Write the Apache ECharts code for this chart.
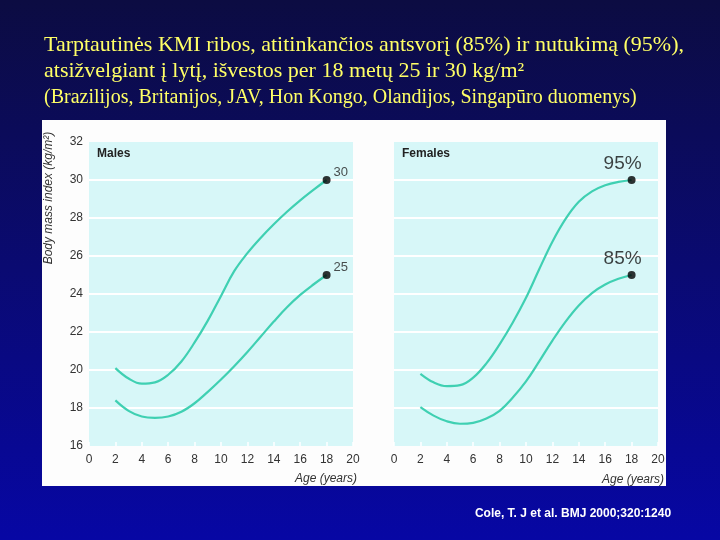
<!DOCTYPE html>
<html><head><meta charset="utf-8">
<script src="https://cdn.jsdelivr.net/npm/echarts@6/dist/echarts.min.js"></script>
<style>html,body{margin:0;padding:0;background:#0a0a60}#c{width:720px;height:540px}</style>
</head><body><div id="c"></div>
<script>
// ---- data ----
const ages = [2,3,4,5,6,7,8,9,10,11,12,13,14,15,16,17,18];
const males30   = [20.1,19.55,19.28,19.35,19.75,20.45,21.45,22.6,23.9,25.2,26.15,26.95,27.67,28.33,28.93,29.48,30.0];
const males25   = [18.4,17.85,17.55,17.48,17.55,17.8,18.25,18.85,19.5,20.2,20.95,21.75,22.55,23.3,23.95,24.5,25.0];
const females95 = [19.8,19.35,19.15,19.2,19.6,20.35,21.35,22.5,23.8,25.3,26.75,27.95,28.85,29.4,29.72,29.9,30.0];
const females85 = [18.05,17.6,17.3,17.17,17.22,17.45,17.85,18.55,19.4,20.45,21.55,22.55,23.4,24.05,24.5,24.8,25.0];
const maleEndLabels = ['30','25'];
const femaleEndLabels = ['95%','85%'];
const panelTitles = ['Males','Females'];
const xMin = 0, xMax = 20, xStep = 2;
const yMin = 16, yMax = 32, yStep = 2;
const titleLine1 = 'Tarptautinės KMI ribos, atitinkančios antsvorį (85%) ir nutukimą (95%),';
const titleLine2 = 'atsižvelgiant į lytį, išvestos per 18 metų 25 ir 30 kg/m²';
const titleLine3 = '(Brazilijos, Britanijos, JAV, Hon Kongo, Olandijos, Singapūro duomenys)';
const yAxisName = 'Body mass index (kg/m²)';
const xAxisName = 'Age (years)';
const citation = 'Cole, T. J et al. BMJ 2000;320:1240';

// ---- styling ----
const LINE = '#3fd0b2';
const SANS = '"Liberation Sans", Arial, Helvetica, sans-serif';
const SERIF = '"Liberation Serif", "Times New Roman", serif';
const pairs = (vals) => ages.map((a, i) => [a, vals[i]]);
const last = (vals) => [ages[ages.length - 1], vals[vals.length - 1]];

const chart = echarts.init(document.getElementById('c'), null, {renderer: 'canvas'});

function xAx(g) {
  return {gridIndex: g, type: 'value', min: xMin, max: xMax, interval: xStep,
    axisLine: {show: false},
    axisTick: {show: true, inside: true, length: 4, lineStyle: {color: '#ffffff', width: 1.5}},
    axisLabel: {color: '#333333', fontSize: 12, margin: 8, fontFamily: SANS},
    splitLine: {show: false}};
}
function yAx(g, showLabels) {
  return {gridIndex: g, type: 'value', min: yMin, max: yMax, interval: yStep,
    axisLine: {show: false}, axisTick: {show: false},
    axisLabel: {show: showLabels, color: '#333333', fontSize: 12, margin: 6, fontFamily: SANS},
    splitLine: {show: true, showMinLine: false, showMaxLine: false, lineStyle: {color: '#ffffff', width: 2}}};
}
function lineSeries(g, vals) {
  return {type: 'line', xAxisIndex: g, yAxisIndex: g, data: pairs(vals), smooth: 0.4,
    showSymbol: false, symbol: 'none', lineStyle: {color: LINE, width: 2.2}, z: 3, silent: true};
}
function endSeries(g, valsList, labels, isFemale) {
  return {type: 'scatter', xAxisIndex: g, yAxisIndex: g, symbol: 'circle', symbolSize: 8,
    itemStyle: {color: '#000000'}, z: 5, silent: true,
    data: valsList.map((v, i) => ({value: last(v), name: labels[i]})),
    label: isFemale
      ? {show: true, formatter: '{b}', position: 'top', distance: 3, offset: [-9, 0],
         color: '#111111', fontSize: 19, fontFamily: SANS}
      : {show: true, formatter: '{b}', position: 'right', distance: 3, offset: [0, -8],
         color: '#222222', fontSize: 13, fontFamily: SANS}};
}

const option = {
  animation: false,
  backgroundColor: {type: 'linear', x: 0, y: 0, x2: 0, y2: 1,
    colorStops: [{offset: 0, color: '#0c0c42'}, {offset: 0.5, color: '#0a0a72'}, {offset: 1, color: '#0707a4'}]},
  grid: [
    {left: 89, top: 142, width: 264, height: 304, show: true, backgroundColor: '#d7f7f8', borderWidth: 0},
    {left: 394, top: 142, width: 264, height: 304, show: true, backgroundColor: '#d7f7f8', borderWidth: 0}
  ],
  xAxis: [xAx(0), xAx(1)],
  yAxis: [yAx(0, true), yAx(1, false)],
  series: [
    lineSeries(0, males30), lineSeries(0, males25),
    lineSeries(1, females95), lineSeries(1, females85),
    endSeries(0, [males30, males25], maleEndLabels, false),
    endSeries(1, [females95, females85], femaleEndLabels, true)
  ],
  graphic: [
    {type: 'rect', z: -10, shape: {x: 42, y: 120, width: 624, height: 366}, style: {fill: '#fdfdfd'}},
    {type: 'text', x: 44, y: 45, style: {text: titleLine1, fill: '#ffff66', font: '22px ' + SERIF, textVerticalAlign: 'middle', verticalAlign: 'middle'}},
    {type: 'text', x: 44, y: 71, style: {text: titleLine2, fill: '#ffff66', font: '22px ' + SERIF, textVerticalAlign: 'middle', verticalAlign: 'middle'}},
    {type: 'text', x: 44, y: 98, style: {text: titleLine3, fill: '#ffff66', font: '20px ' + SERIF, textVerticalAlign: 'middle', verticalAlign: 'middle'}},
    {type: 'text', x: 49, y: 198, rotation: Math.PI / 2, style: {text: yAxisName, fill: '#333333', font: 'italic 12px ' + SANS, textAlign: 'center', align: 'center', textVerticalAlign: 'middle', verticalAlign: 'middle'}},
    {type: 'text', x: 97, y: 154, style: {text: panelTitles[0], fill: '#222222', font: 'bold 12px ' + SANS, textVerticalAlign: 'middle', verticalAlign: 'middle'}},
    {type: 'text', x: 402, y: 154, style: {text: panelTitles[1], fill: '#222222', font: 'bold 12px ' + SANS, textVerticalAlign: 'middle', verticalAlign: 'middle'}},
    {type: 'text', x: 357, y: 479, style: {text: xAxisName, fill: '#333333', font: 'italic 12px ' + SANS, textAlign: 'right', align: 'right', textVerticalAlign: 'middle', verticalAlign: 'middle'}},
    {type: 'text', x: 664, y: 480, style: {text: xAxisName, fill: '#333333', font: 'italic 12px ' + SANS, textAlign: 'right', align: 'right', textVerticalAlign: 'middle', verticalAlign: 'middle'}},
    {type: 'text', x: 573, y: 514, style: {text: citation, fill: '#ffffff', font: 'bold 12px ' + SANS, textAlign: 'center', align: 'center', textVerticalAlign: 'middle', verticalAlign: 'middle'}}
  ]
};
chart.setOption(option);
</script>
</body></html>
